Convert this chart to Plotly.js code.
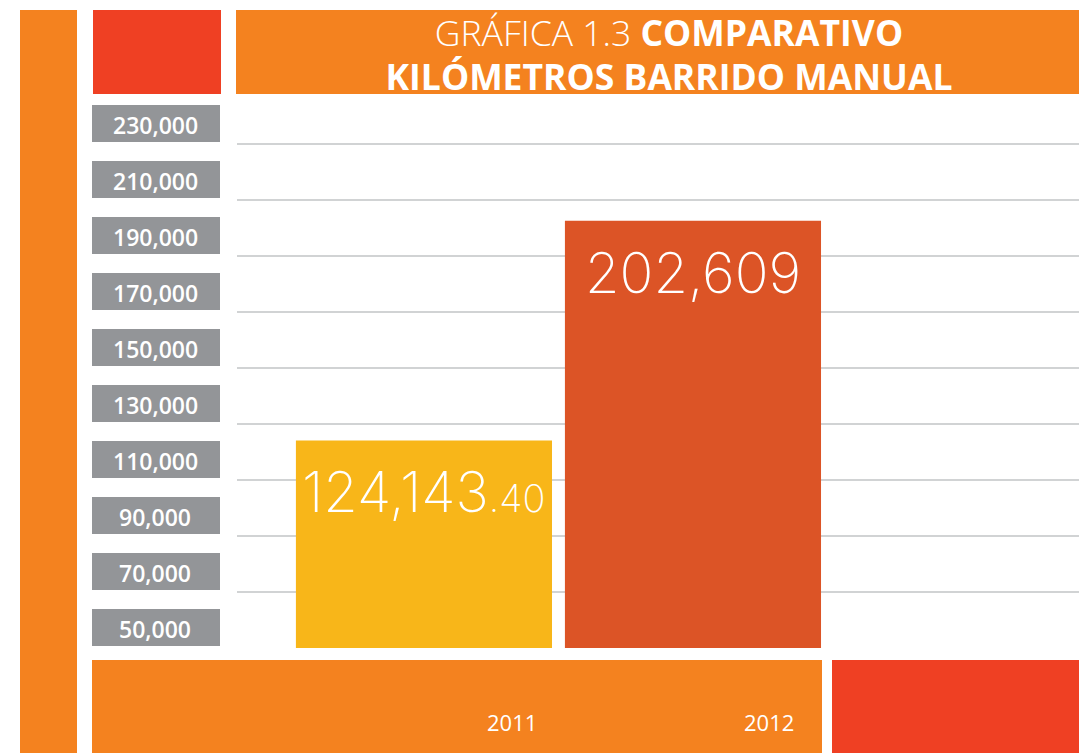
<!DOCTYPE html>
<html>
<head>
<meta charset="utf-8">
<script src="https://cdn.plot.ly/plotly-3.0.1.min.js"></script>
<style>html,body{margin:0;padding:0;background:#fff;}#chart{width:1079px;height:753px;}</style>
</head>
<body>
<div id="chart"></div>
<script>
// ---- data ----
const years = ['2011', '2012'];
const kilometers = [124143.40, 202609];
const tickValues = [50000, 70000, 90000, 110000, 130000, 150000, 170000, 190000, 210000, 230000];
const tickLabels = ['50,000', '70,000', '90,000', '110,000', '130,000', '150,000', '170,000', '190,000', '210,000', '230,000'];

// ---- styles ----
const ORANGE = '#F4821F';
const RED = '#EF4023';
const GREY = '#939598';
const GRID = '#D1D3D4';
const barColors = ['#F8B619', '#DC5426'];

function fmtValue(v) {
  const whole = Math.floor(v);
  const dec = Math.round((v - whole) * 100);
  const w = whole.toString().replace(/\B(?=(\d{3})+(?!\d))/g, ',');
  return dec ? w + '<span style="font-size:38px">.' + String(dec).padStart(2, '0') + '</span>' : w;
}

const W = 1079, H = 753;
const L = 237, R = 0, T = 100, B = 105;
const pw = W - L - R, ph = H - T - B;
const xp = px => (px - L) / pw;
const yp = py => (H - B - py) / ph;

const shapes = [];
function rectPx(x0, y0, x1, y1, color) {
  shapes.push({type: 'rect', xref: 'paper', yref: 'paper', x0: xp(x0), x1: xp(x1), y0: yp(y1), y1: yp(y0),
    fillcolor: color, line: {width: 0}, layer: 'below'});
}
rectPx(20, 10, 77, 753, ORANGE);      // left vertical band
rectPx(93, 10, 221, 94, RED);         // red square top-left
rectPx(236, 10, 1079, 94, ORANGE);    // title banner
rectPx(92, 660, 822, 753, ORANGE);    // bottom band
rectPx(832, 660, 1079, 753, RED);     // red box bottom-right

// grey tick label boxes
tickValues.forEach(v => {
  shapes.push({type: 'rect', xref: 'paper', yref: 'y', ysizemode: 'pixel', yanchor: v,
    x0: xp(92), x1: xp(220), y0: 2, y1: 39, fillcolor: GREY, line: {width: 0}, layer: 'above'});
});

const annotations = [];
tickValues.forEach((v, i) => {
  annotations.push({xref: 'paper', yref: 'y', x: xp(155), y: v, xanchor: 'center', yanchor: 'middle',
    yshift: 19, text: tickLabels[i], showarrow: false,
    font: {family: 'Open Sans', size: 23, weight: 600, color: '#ffffff'}});
});
const yearX = [511.5, 769];
years.forEach((yr, i) => {
  annotations.push({xref: 'paper', yref: 'paper', x: xp(yearX[i]), y: yp(722), xanchor: 'center', yanchor: 'middle',
    text: yr, showarrow: false, font: {family: 'Open Sans', size: 22, color: '#ffffff'}});
});
years.forEach((yr, i) => {
  annotations.push({xref: 'x', yref: 'y', x: i, y: kilometers[i], xanchor: 'center', yanchor: 'top',
    yshift: -16, text: fmtValue(kilometers[i]), showarrow: false,
    font: {family: 'Inter', size: 56, weight: 200, color: '#ffffff'}});
});

const trace = {
  type: 'bar', x: years, y: kilometers, base: 0,
  marker: {color: barColors, line: {width: 0}},
  width: 0.952, hoverinfo: 'skip'
};

const yPerPx = 20000 / 56;
const layout = {
  width: W, height: H,
  margin: {l: L, r: R, t: T, b: B, pad: 0},
  paper_bgcolor: '#ffffff', plot_bgcolor: '#ffffff',
  showlegend: false,
  title: {
    text: '<span style="font-size:35.5px"><span style="font-weight:300">GRÁFICA 1.3</span> <b>COMPARATIVO</b></span><br><span style="font-size:35.5px"><b>KILÓMETROS BARRIDO MANUAL</b></span>',
    font: {family: 'Open Sans', size: 33.5, color: '#ffffff'},
    x: xp(669), xanchor: 'center', xref: 'paper',
    y: 1 - 46 / H, yanchor: 'middle', yref: 'container'
  },
  xaxis: {type: 'category', range: [-0.695, 2.435], showticklabels: false, showgrid: false,
    zeroline: false, showline: false, ticks: '', fixedrange: true},
  yaxis: {range: [50000, 50000 + ph * yPerPx], tickvals: tickValues, ticktext: tickLabels,
    showticklabels: false, showgrid: true, gridcolor: GRID, gridwidth: 2, zeroline: false,
    showline: false, ticks: '', fixedrange: true},
  shapes: shapes,
  annotations: annotations
};

Plotly.newPlot('chart', [trace], layout, {displayModeBar: false, staticPlot: true});
</script>
</body>
</html>
